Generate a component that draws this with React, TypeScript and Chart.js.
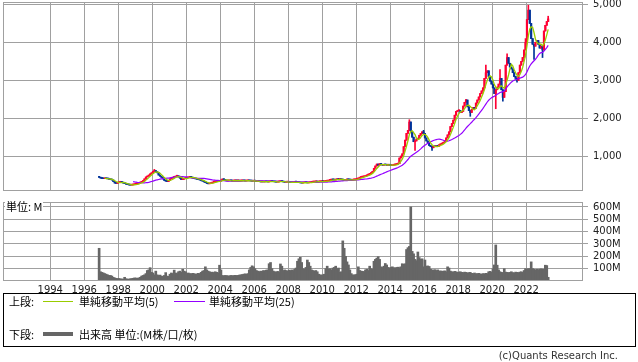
import React, { useEffect, useRef } from 'react';
import { Chart, registerables } from 'chart.js';

Chart.register(...registerables);

// ---------------- data ----------------
const FIRST_YEAR = 1996;
const FIRST_MONTH = 11; // first monthly bar: 1996-11
const FIRST_OPEN = 455;

// monthly closes (yen)
const closePrices: number[] = [
  /*1996*/ 440, 420,
  /*1997*/ 410, 405, 410, 405, 400, 390, 380, 370, 330, 290, 280, 300,
  /*1998*/ 310, 320, 305, 290, 275, 260, 250, 240, 235, 240, 250, 260,
  /*1999*/ 265, 270, 290, 310, 330, 345, 400, 450, 470, 500, 530, 560,
  /*2000*/ 600, 620, 590, 560, 500, 470, 440, 400, 360, 340, 330, 360,
  /*2001*/ 400, 420, 440, 450, 470, 480, 450, 420, 380, 390, 410, 420,
  /*2002*/ 430, 440, 450, 440, 420, 410, 400, 390, 380, 370, 350, 340,
  /*2003*/ 320, 300, 280, 270, 275, 290, 310, 320, 330, 335, 330, 340,
  /*2004*/ 370, 395, 380, 360, 345, 350, 355, 350, 345, 350, 355, 350,
  /*2005*/ 350, 345, 350, 355, 350, 345, 350, 355, 350, 345, 340, 345,
  /*2006*/ 340, 330, 335, 330, 320, 325, 320, 330, 325, 320, 330, 335,
  /*2007*/ 330, 325, 320, 315, 320, 330, 340, 330, 320, 310, 315, 320,
  /*2008*/ 310, 305, 300, 310, 320, 315, 305, 300, 295, 290, 300, 305,
  /*2009*/ 300, 295, 300, 310, 315, 320, 325, 330, 320, 325, 330, 335,
  /*2010*/ 330, 335, 340, 345, 360, 370, 380, 375, 370, 380, 390, 385,
  /*2011*/ 390, 380, 370, 360, 375, 385, 380, 370, 365, 375, 380, 390,
  /*2012*/ 400, 420, 440, 450, 455, 460, 480, 500, 520, 540, 560, 600,
  /*2013*/ 680, 740, 790, 760, 800, 780, 760, 780, 770, 760, 770, 760,
  /*2014*/ 750, 760, 770, 780, 790, 800, 950, 1000, 1060, 1250, 1420, 1600,
  /*2015*/ 1680, 1900, 1650, 1500, 1380, 1400, 1450, 1470, 1550, 1600, 1640, 1600,
  /*2016*/ 1480, 1400, 1350, 1280, 1250, 1220, 1260, 1250, 1270, 1260, 1300, 1320,
  /*2017*/ 1340, 1360, 1400, 1480, 1560, 1640, 1780, 1860, 1950, 2080, 2180, 2200,
  /*2018*/ 2200, 2150, 2180, 2320, 2420, 2480, 2300, 2200, 2150, 2230, 2280, 2260,
  /*2019*/ 2400, 2480, 2560, 2650, 2720, 2800, 3050, 3200, 3250, 3100, 2980, 2900,
  /*2020*/ 2800, 2650, 2750, 2820, 2900, 3050, 2750, 2550, 2700, 3400, 3600, 3450,
  /*2021*/ 3350, 3300, 3200, 3100, 3050, 3000, 3200, 3400, 3500, 3600, 3800, 4000,
  /*2022*/ 4600, 4850, 4500, 4100, 3950, 3900, 4000, 4050, 3950, 3850, 3900, 3800,
  /*2023*/ 4300, 4450, 4550, 4620,
];

// monthly volume (millions)
const volumesM: number[] = [
  /*1996*/ 265, 75,
  /*1997*/ 70, 65, 60, 55, 50, 45, 45, 40, 30, 25, 22, 20,
  /*1998*/ 20, 18, 16, 15, 30, 18, 16, 15, 18, 20, 22, 25,
  /*1999*/ 24, 22, 25, 30, 40, 45, 50, 60, 85, 90, 108, 70,
  /*2000*/ 65, 50, 80, 50, 45, 48, 40, 38, 45, 68, 40, 38,
  /*2001*/ 55, 65, 60, 88, 65, 60, 75, 80, 70, 95, 80, 75,
  /*2002*/ 60, 65, 60, 58, 62, 60, 55, 58, 62, 60, 70, 80,
  /*2003*/ 85, 115, 90, 80, 75, 70, 72, 68, 75, 70, 65, 128,
  /*2004*/ 90, 45, 42, 45, 44, 40, 42, 45, 43, 44, 46, 45,
  /*2005*/ 45, 48, 50, 52, 55, 58, 55, 60, 90, 110, 123, 115,
  /*2006*/ 100, 85, 80, 75, 80, 78, 85, 82, 88, 90, 140, 150,
  /*2007*/ 100, 80, 75, 72, 78, 70, 138, 120, 85, 90, 85, 80,
  /*2008*/ 88, 85, 90, 85, 95, 105, 160, 180, 192, 150, 100, 95,
  /*2009*/ 110, 170, 150, 120, 90, 85, 80, 85, 75, 55, 50, 48,
  /*2010*/ 50, 55, 100, 120, 95, 100, 90, 105, 110, 120, 100, 105,
  /*2011*/ 70, 75, 325, 265, 200, 155, 130, 90, 60, 50, 48, 52,
  /*2012*/ 55, 115, 85, 80, 78, 75, 90, 95, 85, 120, 100, 95,
  /*2013*/ 160, 175, 185, 197, 175, 115, 110, 120, 142, 130, 110, 105,
  /*2014*/ 110, 115, 108, 105, 110, 112, 108, 115, 140, 135, 140, 255,
  /*2015*/ 270, 280, 600, 240, 220, 175, 165, 235, 190, 175, 180, 115,
  /*2016*/ 170, 120, 122, 118, 95, 90, 88, 92, 85, 90, 80, 82,
  /*2017*/ 78, 80, 82, 75, 115, 105, 80, 75, 72, 78, 75, 70,
  /*2018*/ 72, 75, 70, 68, 72, 70, 65, 68, 70, 62, 60, 65,
  /*2019*/ 58, 60, 62, 58, 55, 60, 58, 62, 60, 75, 78, 72,
  /*2020*/ 100, 130, 292, 128, 90, 75, 70, 68, 100, 72, 70, 68,
  /*2021*/ 70, 75, 68, 65, 72, 70, 68, 72, 75, 70, 85, 100,
  /*2022*/ 95, 100, 100, 155, 100, 95, 90, 95, 92, 95, 98, 95,
  /*2023*/ 95, 128, 125, 30,
];

// visible wick extremes (month, price)
const highSpikes: [string, number][] = [
  ['2000-02', 650], ['2015-02', 1960], ['2015-12', 1680], ['2018-06', 2500],
  ['2019-08', 3400], ['2020-06', 3280], ['2020-11', 3700], ['2021-12', 4100],
  ['2022-02', 4980], ['2023-04', 4690],
];
const lowSpikes: [string, number][] = [
  ['2015-06', 1150], ['2016-06', 1150], ['2018-09', 2050], ['2020-03', 2250],
  ['2020-08', 2450], ['2021-06', 2950], ['2022-06', 3550], ['2022-12', 3600],
];

const yearTicks = [1994, 1996, 1998, 2000, 2002, 2004, 2006, 2008, 2010, 2012, 2014, 2016, 2018, 2020, 2022];
const priceTicks = [1000, 2000, 3000, 4000, 5000];
const volumeTicks = [100, 200, 300, 400, 500, 600];

// ---------------- style ----------------
const X_MIN = 1991.22;
const X_MAX = 2025.34;
const GRID = '#a0a0a0';
const UP = '#ff0033';
const DOWN = '#003399';
const SMA5C = '#99cc00';
const SMA25C = '#9400ff';
const VOLC = '#666666';
const TICKC = '#222222';
const TICK_FONT = { family: 'DejaVu Sans', size: 10 };

function monthKey(i: number) {
  const m0 = FIRST_MONTH - 1 + i;
  const y = FIRST_YEAR + Math.floor(m0 / 12);
  const m = (m0 % 12) + 1;
  return `${y}-${String(m).padStart(2, '0')}`;
}
function monthX(i: number) {
  return FIRST_YEAR + (FIRST_MONTH - 1 + i + 0.5) / 12;
}
function sma(n: number) {
  const out: { x: number; y: number }[] = [];
  for (let i = n - 1; i < closePrices.length; i++) {
    let s = 0;
    for (let j = i - n + 1; j <= i; j++) s += closePrices[j];
    out.push({ x: monthX(i), y: s / n });
  }
  return out;
}

const framePlugin = {
  id: 'frame',
  afterDraw(chart: any) {
    const { ctx, chartArea: a } = chart;
    ctx.save();
    ctx.strokeStyle = GRID;
    ctx.lineWidth = 1;
    const l = Math.round(a.left) + 0.5;
    const t = Math.round(a.top) + 0.5;
    const r = Math.round(a.right) - 0.5;
    const b = Math.round(a.bottom) - 0.5;
    ctx.strokeRect(l, t, r - l, b - t);
    ctx.restore();
  },
};

function noPad(axis: any) {
  axis.paddingTop = 0;
  axis.paddingBottom = 0;
  axis.paddingLeft = 0;
  axis.paddingRight = 0;
}

export default function App() {
  const topRef = useRef<HTMLCanvasElement>(null);
  const volRef = useRef<HTMLCanvasElement>(null);

  useEffect(() => {
    const opens = closePrices.map((c, i) => (i === 0 ? FIRST_OPEN : closePrices[i - 1]));
    const hiMap = new Map(highSpikes);
    const loMap = new Map(lowSpikes);
    const colors = closePrices.map((c, i) => (c >= opens[i] ? UP : DOWN));
    const candleData = closePrices.map((c, i) => ({ x: monthX(i), y: [opens[i], c] }));
    const wickData = closePrices.map((c, i) => {
      const k = monthKey(i);
      const hi = Math.max(opens[i], c, hiMap.has(k) ? (hiMap.get(k) as number) : -Infinity);
      const lo = Math.min(opens[i], c, loMap.has(k) ? (loMap.get(k) as number) : Infinity);
      return { x: monthX(i), y: [lo, hi] };
    });
    const volData = volumesM.map((v, i) => ({ x: monthX(i), y: v }));

    const xScale = (showLabels: boolean) => ({
      type: 'linear',
      min: X_MIN,
      max: X_MAX,
      offset: false,
      grid: { color: GRID, drawTicks: false, offset: false },
      border: { display: false },
      ticks: {
        display: showLabels,
        autoSkip: false,
        maxRotation: 0,
        padding: 3,
        color: TICKC,
        font: TICK_FONT,
        callback: (v: any) => String(v),
      },
      afterBuildTicks: (axis: any) => {
        axis.ticks = yearTicks.map((v) => ({ value: v }));
      },
      afterFit: (axis: any) => {
        axis.height = showLabels ? 19 : 0;
        noPad(axis);
      },
    });

    const yScale = (min: number, max: number, ticks: number[], fmt: (v: number) => string) => ({
      type: 'linear',
      position: 'right',
      min,
      max,
      grid: { color: GRID, tickLength: 5 },
      border: { display: false },
      ticks: {
        color: TICKC,
        font: TICK_FONT,
        padding: 5,
        autoSkip: false,
        callback: (v: any) => fmt(Number(v)),
      },
      afterBuildTicks: (axis: any) => {
        axis.ticks = ticks.map((v) => ({ value: v }));
      },
      afterFit: (axis: any) => {
        axis.width = 55;
        noPad(axis);
      },
    });

    const top = new Chart(topRef.current as HTMLCanvasElement, {
      type: 'bar',
      data: {
        datasets: [
          {
            type: 'line',
            data: sma(5),
            borderColor: SMA5C,
            borderWidth: 1.3,
            pointRadius: 0,
            order: 0,
          } as any,
          {
            type: 'line',
            data: sma(25),
            borderColor: SMA25C,
            borderWidth: 1.2,
            pointRadius: 0,
            order: 1,
          } as any,
          {
            type: 'bar',
            data: candleData as any,
            backgroundColor: colors,
            barThickness: 1.5,
            minBarLength: 1,
            grouped: false,
            order: 2,
          } as any,
          {
            type: 'bar',
            data: wickData as any,
            backgroundColor: colors,
            barThickness: 1,
            grouped: false,
            order: 3,
          } as any,
        ],
      },
      options: {
        animation: false,
        responsive: false,
        devicePixelRatio: 1,
        events: [],
        layout: { padding: { left: 3, top: 2, right: 0, bottom: 0 } },
        plugins: { legend: { display: false }, tooltip: { enabled: false } },
        scales: {
          x: xScale(false) as any,
          y: yScale(80, 5065, priceTicks, (v) => v.toLocaleString('en-US')) as any,
        },
      },
      plugins: [framePlugin],
    });

    const vol = new Chart(volRef.current as HTMLCanvasElement, {
      type: 'bar',
      data: {
        datasets: [
          {
            data: volData as any,
            backgroundColor: VOLC,
            barThickness: 2,
            grouped: false,
          } as any,
        ],
      },
      options: {
        animation: false,
        responsive: false,
        devicePixelRatio: 1,
        events: [],
        layout: { padding: { left: 3, top: 6, right: 0, bottom: 0 } },
        plugins: { legend: { display: false }, tooltip: { enabled: false } },
        scales: {
          x: xScale(true) as any,
          y: yScale(0, 640, volumeTicks, (v) => `${v}M`) as any,
        },
      },
      plugins: [framePlugin],
    });

    return () => {
      top.destroy();
      vol.destroy();
    };
  }, []);

  const cjk = '"Noto Sans CJK JP", "Noto Sans", sans-serif';
  const txt = (left: number, cy: number, s: string) => (
    <span
      style={{
        position: 'absolute',
        left,
        top: cy - 7,
        height: 14,
        lineHeight: '14px',
        fontFamily: cjk,
        fontSize: 11,
        color: '#000',
        whiteSpace: 'nowrap',
      }}
    >
      {s}
    </span>
  );

  return (
    <div
      style={{
        position: 'absolute',
        left: 0,
        top: 0,
        width: 638,
        height: 362,
        background: '#fff',
        overflow: 'hidden',
      }}
    >
      <canvas ref={topRef} width={638} height={191} style={{ position: 'absolute', left: 0, top: 0 }} />
      <canvas ref={volRef} width={638} height={104} style={{ position: 'absolute', left: 0, top: 196 }} />
      <span
        style={{
          position: 'absolute',
          left: 5,
          top: 200,
          height: 12,
          lineHeight: '12px',
          padding: '0 1px',
          background: '#fff',
          fontFamily: cjk,
          fontSize: 11,
          color: '#000',
          whiteSpace: 'nowrap',
        }}
      >
        単位: M
      </span>
      <div
        style={{
          position: 'absolute',
          left: 3,
          top: 293,
          width: 633,
          height: 54,
          border: '1px solid #000',
          boxSizing: 'border-box',
        }}
      />
      {txt(9, 301, '上段:')}
      <div style={{ position: 'absolute', left: 43, top: 301, width: 30, height: 1, background: SMA5C }} />
      {txt(79, 301, '単純移動平均(5)')}
      <div style={{ position: 'absolute', left: 174, top: 301, width: 31, height: 1, background: SMA25C }} />
      {txt(209, 301, '単純移動平均(25)')}
      {txt(9, 334, '下段:')}
      <div style={{ position: 'absolute', left: 43, top: 332, width: 30, height: 4, background: VOLC }} />
      {txt(79, 334, '出来高 単位:(M株/口/枚)')}
      <span
        style={{
          position: 'absolute',
          right: 20,
          top: 350,
          height: 12,
          lineHeight: '12px',
          fontFamily: 'DejaVu Sans',
          fontSize: 10,
          color: '#333',
          whiteSpace: 'nowrap',
        }}
      >
        (c)Quants Research Inc.
      </span>
    </div>
  );
}
